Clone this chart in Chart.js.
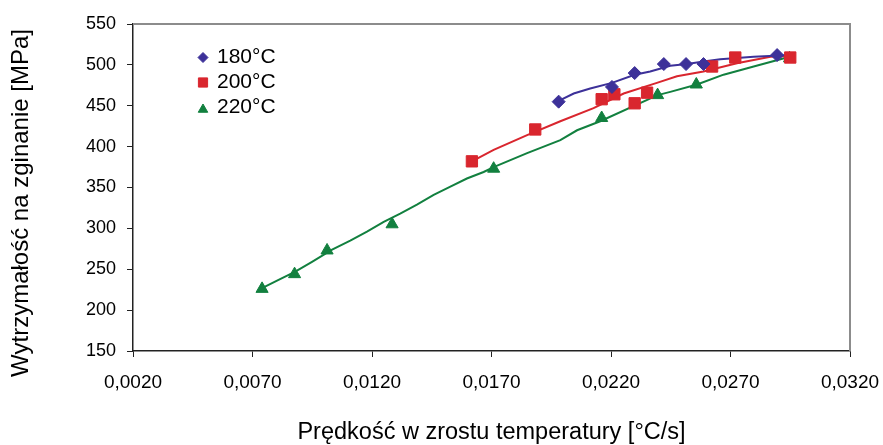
<!DOCTYPE html>
<html>
<head>
<meta charset="utf-8">
<script src="https://cdn.jsdelivr.net/npm/chart.js@4.4.1/dist/chart.umd.min.js"></script>
<style>
  html, body { margin: 0; padding: 0; background: #fff; }
  #wrap { width: 883px; height: 445px; }
</style>
</head>
<body>
<div id="wrap"><canvas id="chart"></canvas></div>
<script>
// measured points (heating rate [°C/s], bending strength [MPa])
const seriesLabels = ["180°C", "200°C", "220°C"];

const rate180 = [0.01981, 0.02204, 0.02299, 0.02421, 0.02514, 0.02587, 0.02895];
const str180 = [455, 473, 490, 501, 501, 501, 512];

const rate200 = [0.01618, 0.01883, 0.02161, 0.02214, 0.02299, 0.02351, 0.02623, 0.02720, 0.02950];
const str200 = [382, 421, 458, 464, 453, 466, 498, 509, 509];

const rate220 = [0.00740, 0.00876, 0.01012, 0.01284, 0.01709, 0.02161, 0.02395, 0.02557, 0.02947];
const str220 = [226, 244, 273, 305, 373, 435, 463, 476, 508];

// trend lines
const fitRate180 = [0.01981, 0.02044, 0.02113, 0.02204, 0.02299, 0.02364, 0.02448, 0.02518, 0.02587, 0.02657, 0.02797, 0.02950];
const fitStr180 = [456, 465, 471, 478, 488, 492, 499, 501, 504, 507, 510, 512];

const fitRate200 = [0.01618, 0.01709, 0.01849, 0.01988, 0.02127, 0.02253, 0.02392, 0.02476, 0.02587, 0.02727, 0.02867, 0.02950];
const fitStr200 = [382, 396, 414, 431, 447, 465, 478, 486, 492, 502, 510, 511];

const fitRate220 = [0.00740, 0.00809, 0.00879, 0.00949, 0.01033, 0.01109, 0.01179, 0.01249, 0.01318, 0.01388, 0.01458, 0.01528,
  0.01597, 0.01667, 0.01709, 0.01849, 0.01988, 0.02058, 0.02155, 0.02395, 0.02448, 0.02560, 0.02671, 0.02797, 0.02936];
const fitStr220 = [227, 237, 247, 259, 274, 285, 296, 308, 318, 329, 341, 351,
  361, 369, 375, 392, 408, 420, 431, 463, 467, 476, 488, 498, 509];

// axis ticks
const xTicks = [0.002, 0.007, 0.012, 0.017, 0.022, 0.027, 0.032];
const yTicks = [150, 200, 250, 300, 350, 400, 450, 500, 550];

const colors = ["#3d3199", "#d9262e", "#12803f"];
const markerStyles = ["rectRot", "rect", "triangle"];
const markerRadius = [6.5, 8, 7];

const FONT = "'Liberation Sans', Arial, sans-serif";

function toPoints(xs, ys) {
  return xs.map((x, i) => ({ x: x, y: ys[i] }));
}

const markerData = [toPoints(rate180, str180), toPoints(rate200, str200), toPoints(rate220, str220)];
const fitData = [toPoints(fitRate180, fitStr180), toPoints(fitRate200, fitStr200), toPoints(fitRate220, fitStr220)];

const datasets = [];
// markers first so they sit on top
markerData.forEach((d, i) => {
  datasets.push({
    label: seriesLabels[i],
    data: d,
    showLine: false,
    pointStyle: markerStyles[i],
    pointRadius: markerRadius[i],
    pointBackgroundColor: colors[i],
    pointBorderColor: colors[i],
    pointBorderWidth: 1,
  });
});
fitData.forEach((d, i) => {
  datasets.push({
    label: seriesLabels[i] + " trend",
    data: d,
    showLine: true,
    borderColor: colors[i],
    borderWidth: 2,
    pointRadius: 0,
    tension: 0,
  });
});

// gray frame, rotated y title and the legend inside the plot
const extras = {
  id: "extras",
  beforeDatasetsDraw(chart) {
    const { ctx, chartArea: a } = chart;
    ctx.save();
    ctx.strokeStyle = "#8c8c8c";
    ctx.lineWidth = 2;
    ctx.beginPath();
    ctx.moveTo(a.left, a.top);
    ctx.lineTo(a.right, a.top);
    ctx.lineTo(a.right, a.bottom);
    ctx.stroke();
    ctx.restore();
  },
  afterDraw(chart) {
    const { ctx, chartArea: a } = chart;
    ctx.save();
    ctx.fillStyle = "#000";
    ctx.font = "24px " + FONT;
    ctx.textAlign = "center";
    ctx.textBaseline = "middle";
    ctx.translate(21, 203);
    ctx.rotate(-Math.PI / 2);
    ctx.fillText("Wytrzymałość na zginanie [MPa]", 0, 0);
    ctx.restore();

    ctx.save();
    ctx.font = "21px " + FONT;
    ctx.textAlign = "left";
    ctx.textBaseline = "middle";
    seriesLabels.forEach((lab, i) => {
      const y = a.top + 33.5 + i * 25;
      const x = a.left + 70;
      ctx.fillStyle = colors[i];
      ctx.strokeStyle = colors[i];
      ctx.lineWidth = 1;
      Chart.helpers.drawPoint(ctx, { pointStyle: markerStyles[i], radius: markerRadius[i] - 1.5, rotation: 0, borderWidth: 1 }, x, y + (i === 2 ? 2 : 0));
      ctx.fillStyle = "#000";
      ctx.fillText(lab, x + 14, y);
    });
    ctx.restore();
  }
};

new Chart(document.getElementById("chart"), {
  type: "scatter",
  data: { datasets: datasets },
  options: {
    responsive: true,
    maintainAspectRatio: false,
    animation: false,
    layout: { padding: { top: 24, right: 33, left: 0, bottom: 0 } },
    plugins: {
      legend: { display: false },
      tooltip: { enabled: false },
    },
    scales: {
      x: {
        type: "linear",
        min: 0.002,
        max: 0.032,
        afterBuildTicks: (s) => { s.ticks = xTicks.map((v) => ({ value: v })); },
        afterFit: (s) => { s.height = 94; s.paddingLeft = 0; s.paddingRight = 0; },
        ticks: {
          color: "#000",
          font: { family: FONT, size: 19 },
          padding: 14,
          maxRotation: 0,
          autoSkip: false,
          callback: (v) => v.toFixed(4).replace(".", ","),
        },
        grid: { drawOnChartArea: false, drawTicks: true, tickLength: 6, color: "#222" },
        border: { color: "#222", width: 1.5 },
        title: {
          display: true,
          text: "Prędkość w zrostu temperatury [°C/s]",
          color: "#000",
          font: { family: FONT, size: 23.5 },
          padding: { top: 0, bottom: -2 },
        },
      },
      y: {
        min: 150,
        max: 550,
        afterBuildTicks: (s) => { s.ticks = yTicks.map((v) => ({ value: v })); },
        afterFit: (s) => { s.width = 133; s.paddingTop = 0; s.paddingBottom = 0; },
        ticks: {
          color: "#000",
          font: { family: FONT, size: 18 },
          padding: 11,
        },
        grid: { drawOnChartArea: false, drawTicks: true, tickLength: 6, color: "#222" },
        border: { color: "#222", width: 1.5 },
      },
    },
  },
  plugins: [extras],
});
</script>
</body>
</html>
